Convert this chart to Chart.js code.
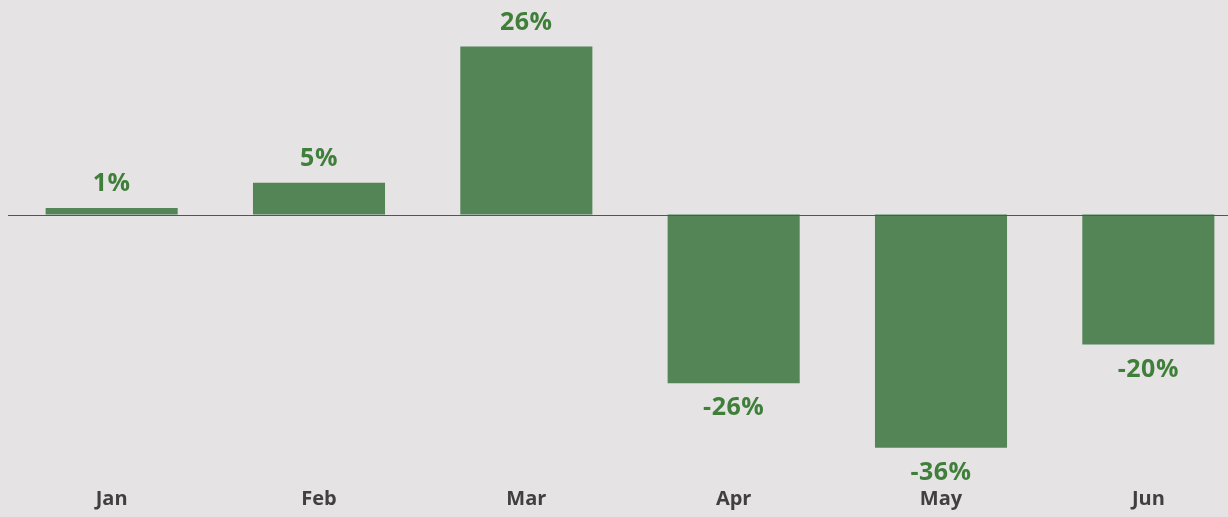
<!DOCTYPE html>
<html>
<head>
<meta charset="utf-8">
<script src="https://cdn.jsdelivr.net/npm/chart.js@4/dist/chart.umd.min.js"></script>
<style>
    html, body { margin: 0; padding: 0; background: #e5e3e4; overflow: hidden; }
    #wrap { width: 1252px; height: 517px; }
</style>
</head>
<body>
<div id="wrap"><canvas id="chart"></canvas></div>
<script>
const MONTHS = ['Jan', 'Feb', 'Mar', 'Apr', 'May', 'Jun'];
const CHANGE = [1, 4.9, 26, -26.1, -36.1, -20.1];

const BAR = '#548556';
const LABEL = '#3f7f3a';

// bar value labels + zero line
const valueLabels = {
    id: 'valueLabels',
    afterDatasetsDraw(chart) {
        const ctx = chart.ctx;
        const y = chart.scales.y;
        const area = chart.chartArea;
        const y0 = y.getPixelForValue(0);
        ctx.save();
        ctx.strokeStyle = '#555555';
        ctx.lineWidth = 1;
        ctx.beginPath();
        ctx.moveTo(8, Math.round(y0) + 0.5);
        ctx.lineTo(area.right, Math.round(y0) + 0.5);
        ctx.stroke();

        ctx.font = 'bold 25px "Open Sans"';
        ctx.letterSpacing = '0.5px';
        ctx.fillStyle = LABEL;
        ctx.textAlign = 'center';
        ctx.textBaseline = 'middle';
        chart.getDatasetMeta(0).data.forEach((bar, i) => {
            const v = CHANGE[i];
            const text = Math.round(v) + '%';
            if (v >= 0) {
                ctx.fillText(text, bar.x, bar.y - 24);
            } else {
                ctx.fillText(text, bar.x, bar.y + 25);
            }
        });
        ctx.restore();
    }
};

new Chart(
    document.getElementById('chart'),
    {
        type: 'bar',
        data: {
            labels: MONTHS,
            datasets: [
                {
                    data: CHANGE,
                    backgroundColor: BAR,
                    barPercentage: 0.637,
                    categoryPercentage: 1,
                },
            ]
        },
        options: {
            responsive: true,
            maintainAspectRatio: false,
            animation: false,
            layout: { padding: { left: 8, top: 0, right: 0, bottom: 0 } },
            scales: {
                x: {
                    grid: { display: false },
                    border: { display: false },
                    ticks: {
                        color: '#404040',
                        font: { family: 'Open Sans', size: 20, weight: 'bold' },
                        padding: 6,
                    },
                },
                y: {
                    display: false,
                    min: -40,
                    max: 33.2,
                },
            },
            plugins: {
                legend: { display: false },
                tooltip: { enabled: false },
            }
        },
        plugins: [valueLabels]
    }
);
</script>
</body>
</html>
